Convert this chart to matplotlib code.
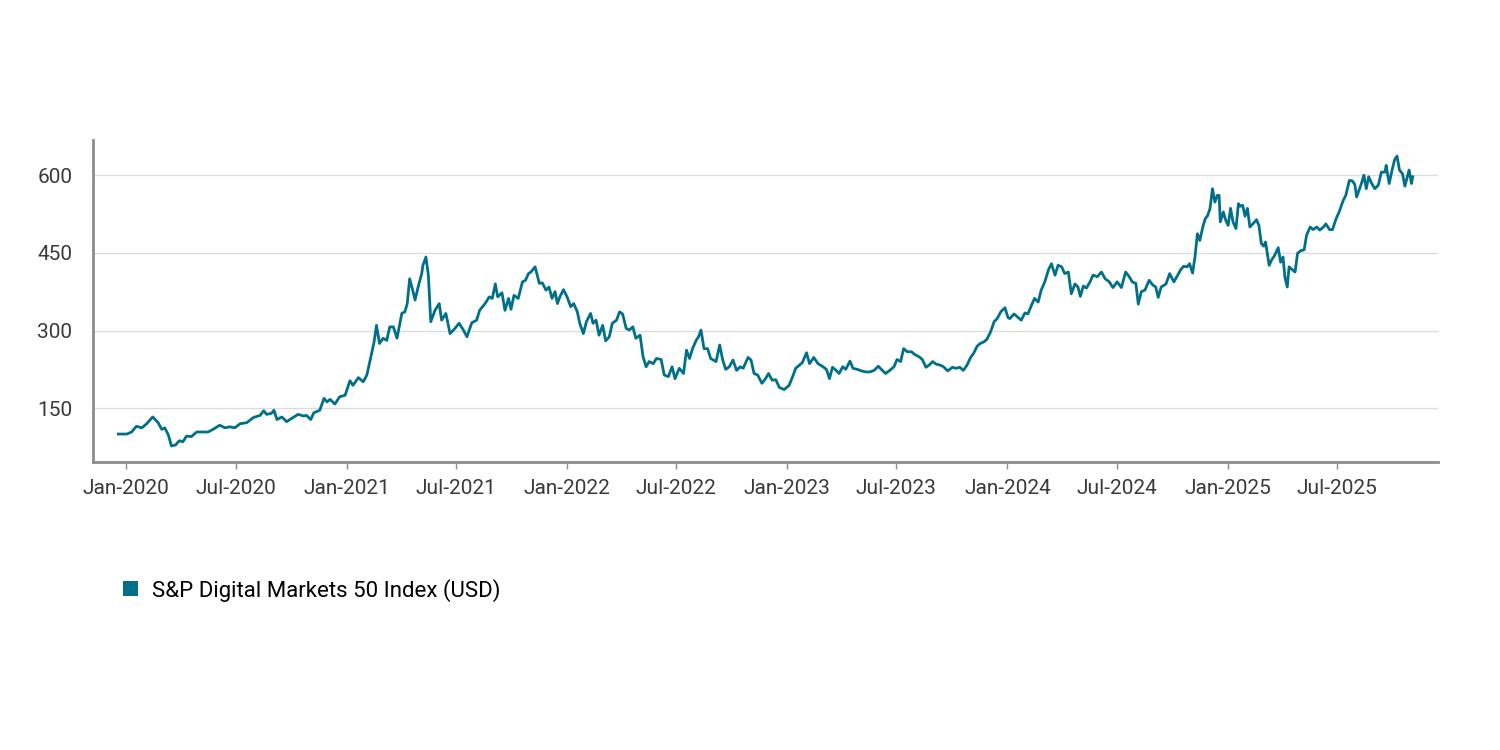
import matplotlib
matplotlib.use("Agg")
import matplotlib.pyplot as plt
import matplotlib.dates as mdates
from matplotlib.patches import Patch
import pandas as pd

plt.rcParams['font.family'] = ['Roboto', 'DejaVu Sans']

# S&P Digital Markets 50 Index (USD)
dates = [
    "2019-12-19", "2020-01-02", "2020-01-10", "2020-01-18", "2020-01-27", "2020-02-04",
    "2020-02-14", "2020-02-23", "2020-02-29", "2020-03-05", "2020-03-11", "2020-03-16",
    "2020-03-23", "2020-03-29", "2020-04-04", "2020-04-10", "2020-04-18", "2020-04-27",
    "2020-05-08", "2020-05-16", "2020-05-24", "2020-06-04", "2020-06-13", "2020-06-21",
    "2020-06-29", "2020-07-08", "2020-07-19", "2020-07-30", "2020-08-10", "2020-08-16",
    "2020-08-21", "2020-08-29", "2020-09-02", "2020-09-07", "2020-09-15", "2020-09-23",
    "2020-10-01", "2020-10-12", "2020-10-21", "2020-10-26", "2020-11-02", "2020-11-07",
    "2020-11-17", "2020-11-24", "2020-11-29",
    "2020-12-04", "2020-12-12", "2020-12-20", "2020-12-29", "2021-01-06", "2021-01-11",
    "2021-01-20", "2021-01-28", "2021-02-03", "2021-02-11", "2021-02-15", "2021-02-19",
    "2021-02-24", "2021-03-02", "2021-03-08", "2021-03-13", "2021-03-19", "2021-03-25",
    "2021-04-02", "2021-04-07", "2021-04-11", "2021-04-15", "2021-04-20", "2021-04-24",
    "2021-04-29", "2021-05-05", "2021-05-07", "2021-05-12", "2021-05-16", "2021-05-20",
    "2021-05-27", "2021-06-03", "2021-06-07", "2021-06-14", "2021-06-21", "2021-06-29",
    "2021-07-06", "2021-07-13", "2021-07-19", "2021-07-27", "2021-08-04", "2021-08-09",
    "2021-08-18", "2021-08-25", "2021-08-30", "2021-09-04", "2021-09-08", "2021-09-15",
    "2021-09-20", "2021-09-26", "2021-09-30", "2021-10-05", "2021-10-12", "2021-10-19",
    "2021-10-24", "2021-10-29", "2021-11-02", "2021-11-09", "2021-11-16", "2021-11-21",
    "2021-11-27", "2021-12-02",
    "2021-12-07", "2021-12-12", "2021-12-16", "2021-12-20", "2021-12-26", "2022-01-01",
    "2022-01-07", "2022-01-12", "2022-01-18", "2022-01-22", "2022-01-28", "2022-02-02",
    "2022-02-09", "2022-02-13", "2022-02-18", "2022-02-23", "2022-03-01", "2022-03-06",
    "2022-03-12", "2022-03-17", "2022-03-24", "2022-03-29", "2022-04-03", "2022-04-09",
    "2022-04-14", "2022-04-20", "2022-04-25", "2022-05-02", "2022-05-07", "2022-05-12",
    "2022-05-17", "2022-05-24", "2022-05-29", "2022-06-06", "2022-06-11", "2022-06-18",
    "2022-06-24", "2022-06-29", "2022-07-06", "2022-07-13", "2022-07-18", "2022-07-23",
    "2022-07-28", "2022-08-03", "2022-08-07", "2022-08-11", "2022-08-16", "2022-08-22",
    "2022-08-27", "2022-09-05", "2022-09-11", "2022-09-16", "2022-09-21", "2022-09-27",
    "2022-10-03", "2022-10-09", "2022-10-15", "2022-10-20", "2022-10-28", "2022-11-02",
    "2022-11-07", "2022-11-13", "2022-11-20", "2022-11-26", "2022-12-01", "2022-12-07",
    "2022-12-13", "2022-12-19", "2022-12-27",
    "2023-01-04", "2023-01-10", "2023-01-15", "2023-01-21", "2023-01-26", "2023-02-02",
    "2023-02-07", "2023-02-14", "2023-02-21", "2023-02-28", "2023-03-07", "2023-03-12",
    "2023-03-17", "2023-03-23", "2023-03-28", "2023-04-03", "2023-04-08", "2023-04-15",
    "2023-04-20", "2023-04-27", "2023-05-04", "2023-05-11", "2023-05-18", "2023-05-25",
    "2023-06-01", "2023-06-06", "2023-06-13", "2023-06-20", "2023-06-27", "2023-07-02",
    "2023-07-08", "2023-07-13", "2023-07-19", "2023-07-26", "2023-07-31", "2023-08-08",
    "2023-08-13", "2023-08-19", "2023-08-24", "2023-08-30", "2023-09-05", "2023-09-12",
    "2023-09-17", "2023-09-24", "2023-10-02", "2023-10-08", "2023-10-14", "2023-10-20",
    "2023-10-26", "2023-11-01", "2023-11-06", "2023-11-12", "2023-11-17", "2023-11-23",
    "2023-11-28", "2023-12-04", "2023-12-10", "2023-12-15", "2023-12-21", "2023-12-28",
    "2024-01-02",
    "2024-01-05", "2024-01-12", "2024-01-19", "2024-01-24", "2024-01-30", "2024-02-04",
    "2024-02-10", "2024-02-15", "2024-02-21", "2024-02-26", "2024-03-03", "2024-03-09",
    "2024-03-14", "2024-03-20", "2024-03-25", "2024-03-31", "2024-04-05", "2024-04-11",
    "2024-04-16", "2024-04-22", "2024-04-27", "2024-05-01", "2024-05-06", "2024-05-11",
    "2024-05-17", "2024-05-22", "2024-05-29", "2024-06-05", "2024-06-11", "2024-06-18",
    "2024-06-24", "2024-07-01", "2024-07-08", "2024-07-15", "2024-07-21", "2024-07-26",
    "2024-08-01", "2024-08-05", "2024-08-10", "2024-08-16", "2024-08-23", "2024-08-29",
    "2024-09-03", "2024-09-07", "2024-09-12", "2024-09-20", "2024-09-26", "2024-10-03",
    "2024-10-08", "2024-10-14", "2024-10-19", "2024-10-25", "2024-10-29", "2024-11-03",
    "2024-11-07", "2024-11-11", "2024-11-15", "2024-11-20", "2024-11-24", "2024-11-28",
    "2024-12-02", "2024-12-06", "2024-12-10", "2024-12-14", "2024-12-17", "2024-12-19",
    "2024-12-24", "2024-12-28", "2025-01-01", "2025-01-05", "2025-01-09", "2025-01-14",
    "2025-01-18",
    "2025-01-21", "2025-01-25", "2025-01-29", "2025-02-02", "2025-02-06", "2025-02-11",
    "2025-02-17", "2025-02-21", "2025-02-25", "2025-03-01", "2025-03-04", "2025-03-10",
    "2025-03-14", "2025-03-19", "2025-03-25", "2025-03-29", "2025-04-02", "2025-04-05",
    "2025-04-09", "2025-04-12", "2025-04-18", "2025-04-22", "2025-04-26", "2025-05-01",
    "2025-05-07", "2025-05-11", "2025-05-17", "2025-05-22", "2025-05-28", "2025-06-02",
    "2025-06-08", "2025-06-12", "2025-06-18", "2025-06-23", "2025-06-29", "2025-07-04",
    "2025-07-11", "2025-07-15", "2025-07-21", "2025-07-26", "2025-07-30", "2025-08-02",
    "2025-08-06", "2025-08-10", "2025-08-14", "2025-08-18", "2025-08-22", "2025-08-27",
    "2025-09-01", "2025-09-07", "2025-09-12", "2025-09-18", "2025-09-20", "2025-09-25",
    "2025-09-30", "2025-10-04", "2025-10-08", "2025-10-12", "2025-10-17", "2025-10-21",
    "2025-10-25", "2025-10-28", "2025-11-01", "2025-11-03",
]

values = [
    100, 100, 104, 115, 112, 120,
    133, 122, 109, 112, 98, 77,
    79, 87, 85, 96, 95, 104,
    104, 104, 109, 117, 112, 114,
    112, 120, 122, 132, 136, 145,
    138, 140, 146, 128, 133, 124,
    130, 138, 135, 136, 128, 141,
    146, 169, 162,
    167, 158, 172, 175, 203, 194,
    209, 201, 214, 256, 278, 310,
    275, 285, 281, 307, 307, 285,
    333, 336, 352, 400, 378, 359,
    384, 410, 426, 442, 407, 317,
    339, 352, 320, 333, 294, 304,
    314, 301, 288, 315, 320, 339,
    352, 365, 362, 390, 365, 373,
    339, 362, 341, 368, 362, 394,
    397, 410, 413, 423, 391, 392,
    378, 384,
    362, 375, 352, 365, 379, 365,
    346, 352, 336, 314, 294, 317,
    333, 314, 320, 291, 310, 280,
    288, 314, 320, 336, 332, 304,
    301, 307, 285, 291, 249, 230,
    240, 236, 246, 244, 214, 211,
    230, 207, 227, 217, 262, 246,
    265, 281, 288, 301, 265, 265,
    246, 240, 272, 243, 225, 230,
    243, 223, 230, 227, 248, 243,
    217, 214, 198, 207, 217, 204,
    205, 190, 186,
    194, 211, 227, 233, 238, 257,
    236, 248, 236, 231, 225, 207,
    229, 223, 217, 230, 225, 241,
    227, 225, 222, 220, 220, 223,
    231, 225, 217, 223, 230, 244,
    240, 265, 259, 259, 254, 249,
    244, 229, 233, 240, 235, 233,
    230, 222, 229, 227, 229, 223,
    233, 248, 256, 270, 275, 278,
    283, 297, 317, 323, 336, 344,
    325,
    323, 332, 325, 320, 334, 332,
    349, 362, 355, 378, 394, 417,
    429, 407, 426, 423, 410, 413,
    371, 390, 384, 366, 386, 382,
    394, 407, 404, 413, 400, 394,
    383, 394, 383, 413, 404, 394,
    391, 351, 375, 378, 397, 388,
    384, 364, 384, 390, 410, 394,
    404, 417, 424, 423, 429, 411,
    442, 487, 474, 500, 516, 522,
    536, 574, 548, 561, 561, 510,
    529, 513, 503, 536, 510, 497,
    545,
    540, 542, 521, 536, 500, 506,
    514, 503, 468, 463, 471, 426,
    436, 445, 460, 432, 442, 404,
    384, 423, 417, 413, 449, 454,
    456, 484, 500, 495, 500, 494,
    500, 506, 495, 495, 516, 529,
    552, 561, 590, 589, 582, 558,
    571, 584, 600, 574, 597, 584,
    574, 581, 606, 606, 619, 584,
    611, 630, 637, 610, 603, 579,
    597, 610, 584, 597,
]

series_label = "S&P Digital Markets 50 Index (USD)"
y_ticks = [150, 300, 450, 600]
x_tick_dates = ["2020-01-01", "2020-07-01", "2021-01-01", "2021-07-01", "2022-01-01",
                "2022-07-01", "2023-01-01", "2023-07-01", "2024-01-01", "2024-07-01",
                "2025-01-01", "2025-07-01"]

line_color = "#00708a"
axis_color = "#8c8c8c"

x = pd.to_datetime(dates)

fig = plt.figure(figsize=(15, 7.5), dpi=100)
ax = fig.add_axes([0.062, 0.384, 0.8967, 0.4293])

ax.plot(x, values, color=line_color, linewidth=2.0, solid_joinstyle="round")

ax.set_ylim(46, 668)
ax.set_xlim(pd.Timestamp("2019-11-07"), pd.Timestamp("2025-12-15"))

ax.set_yticks(y_ticks)
ax.set_xticks(pd.to_datetime(x_tick_dates))
ax.xaxis.set_major_formatter(mdates.DateFormatter("%b-%Y"))

ax.grid(axis="y", color="#dcdcdc", linewidth=1.0)
ax.set_axisbelow(True)

for side in ["top", "right"]:
    ax.spines[side].set_visible(False)
for side in ["left", "bottom"]:
    ax.spines[side].set_color(axis_color)
    ax.spines[side].set_linewidth(2.0)

ax.tick_params(axis="x", length=5, width=1, color=axis_color, pad=7,
               labelsize=15, labelcolor="#3a3a3a")
ax.tick_params(axis="y", length=0, pad=15, labelsize=15, labelcolor="#3a3a3a")

handle = Patch(facecolor=line_color, edgecolor="none")
fig.legend([handle], [series_label], loc="center left",
           bbox_to_anchor=(0.082, 0.213), frameon=False,
           handlelength=0.68, handleheight=0.68, handletextpad=0.62,
           borderpad=0, borderaxespad=0, fontsize=16)

fig.savefig("out.png", dpi=100, facecolor="white")
